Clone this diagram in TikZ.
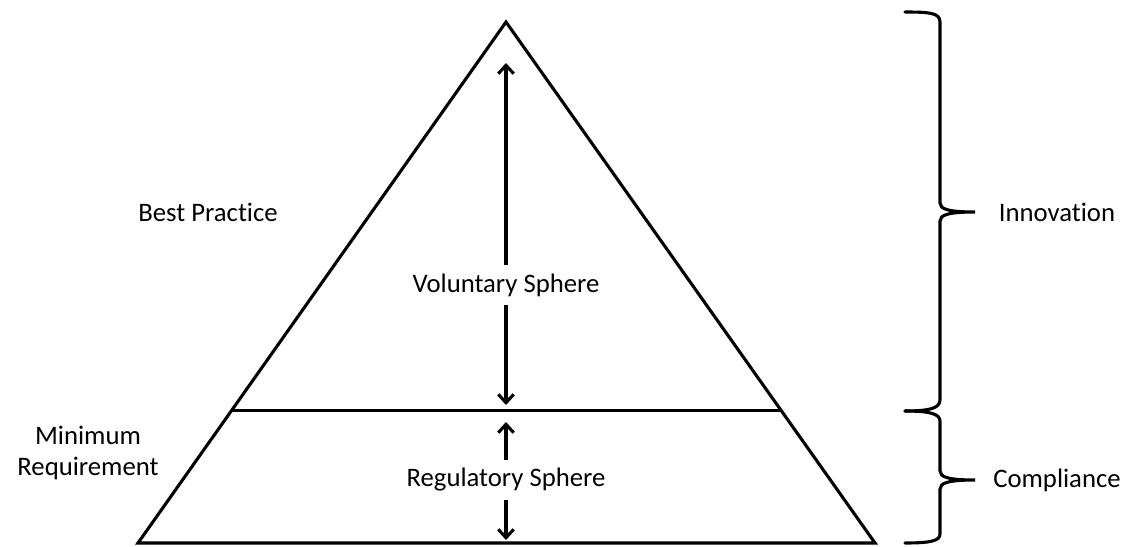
\documentclass[tikz,border=0pt]{standalone}
\usepackage{fontspec}
\setmainfont{Carlito}[Ligatures=NoCommon]
\usetikzlibrary{arrows.meta, calc}

\begin{document}
\begin{tikzpicture}[x=0.025cm, y=-0.025cm, line width=2.2pt, >={Straight Barb[length=6pt, width=11pt]},
  lbl/.style={font=\fontsize{19}{22}\selectfont, inner sep=3pt, outer sep=3pt}]
\useasboundingbox (0,0) rectangle (1137,546);
% pyramid
\coordinate (apex) at (506,22);
\coordinate (bl) at (138,543);
\coordinate (br) at (875,543);
\draw[line join=miter] (apex) -- (br) -- (bl) -- cycle;
\coordinate (divl) at ($(apex)!0.745!(bl)$);
\coordinate (divr) at ($(apex)!0.745!(br)$);
\draw (divl) -- (divr);
% spheres
\node[lbl] (vol) at (506,285) {Voluntary Sphere};
\node[lbl] (reg) at (506,480) {Regulatory Sphere};
\coordinate (voltop) at (506,63);
\coordinate (volbot) at (506,405);
\coordinate (regtop) at (506,422);
\coordinate (regbot) at (506,540);
\draw[->] (vol) -- (voltop);
\draw[->] (vol) -- (volbot);
\draw[->] (reg) -- (regtop);
\draw[->] (reg) -- (regbot);
% left labels
\node[lbl] (best) at (208,212) {Best Practice};
\node[lbl, align=center] (minreq) at (88,453) {Minimum\\Requirement};
% braces
\draw[line cap=round] (905,12) .. controls (930,12) and (940,13) .. (940,22) -- (940,203)
  .. controls (940,209) and (948,212) .. (975,212)
  .. controls (948,212) and (940,215) .. (940,221) -- (940,400)
  .. controls (940,408) and (930,411) .. (905,411);
\draw[line cap=round] (905,411) .. controls (930,411) and (940,414) .. (940,421) -- (940,471)
  .. controls (940,477) and (948,480) .. (975,480)
  .. controls (948,480) and (940,483) .. (940,489) -- (940,534)
  .. controls (940,541) and (930,543) .. (905,543);
\node[lbl] (innov) at (1057,212) {Innovation};
\node[lbl] (compl) at (1057,480) {Compliance};
\end{tikzpicture}
\end{document}
